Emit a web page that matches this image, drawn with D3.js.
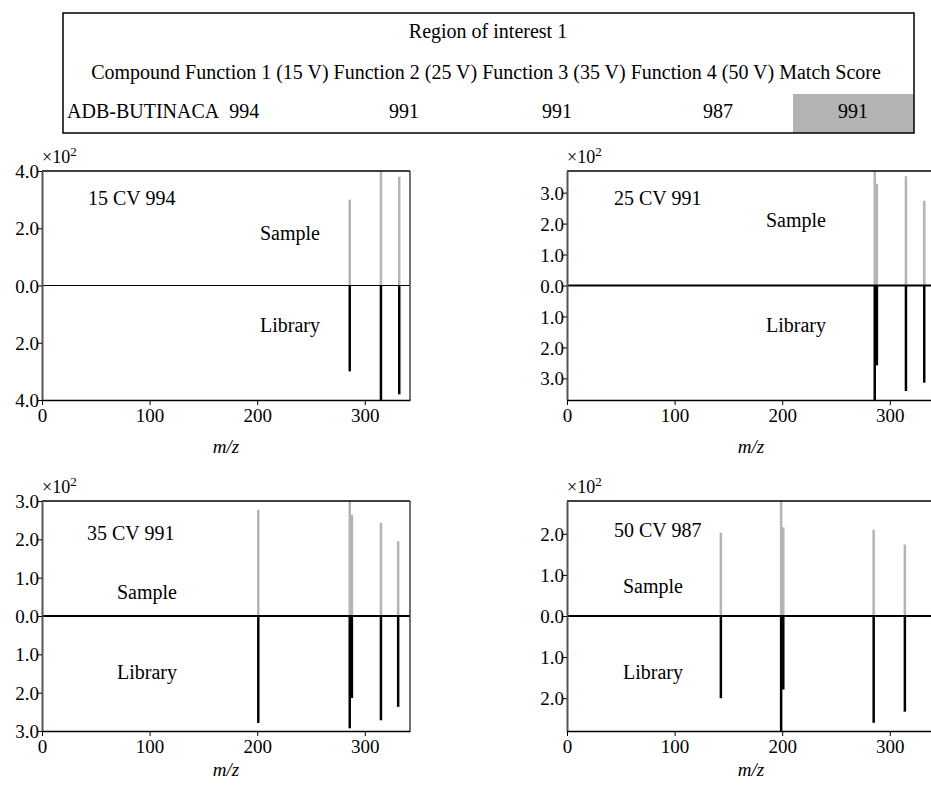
<!DOCTYPE html>
<meta charset="utf-8">
<style>
body { margin: 0; background: #fff; }
svg text { font-family: "Liberation Serif", "DejaVu Serif", serif; fill: #000; }
.axis path, .axis line { stroke: #000; }
</style>
<body>
<div id="chart"></div>
<script src="https://cdn.jsdelivr.net/npm/d3@7"></script>
<script>
// header table
var headTitle = "Region of interest 1";
var headCols = "Compound Function 1 (15 V) Function 2 (25 V) Function 3 (35 V) Function 4 (50 V) Match Score";
var rowName = "ADB-BUTINACA";
var rowScores = ["994", "991", "991", "987", "991"];

// spectra (intensity x10^2), sample above / library below
var panelLabels = ["15 CV 994", "25 CV 991", "35 CV 991", "50 CV 987"];
var yMaxes = [4.0, 3.7, 3.0, 2.8];
var yTicks = [[-4, -2, 0, 2, 4], [-3, -2, -1, 0, 1, 2, 3], [-3, -2, -1, 0, 1, 2, 3], [-2, -1, 0, 1, 2]];

var mz15 = [286, 315, 332];
var sample15 = [3.0, 4.0, 3.8];
var library15 = [3.0, 4.0, 3.8];

var mz25 = [286, 288, 315, 332];
var sample25 = [3.7, 3.29, 3.53, 2.74];
var library25 = [3.7, 2.58, 3.41, 3.14];

var mz35 = [201, 286, 288, 315, 331];
var sample35 = [2.77, 3.0, 2.64, 2.43, 1.95];
var library35 = [2.79, 2.93, 2.14, 2.72, 2.37];

var mz50 = [143, 199, 201, 285, 314];
var sample50 = [2.03, 2.8, 2.16, 2.1, 1.74];
var library50 = [2.0, 2.8, 1.79, 2.6, 2.33];

var xTicks = [0, 100, 200, 300];

var svg = d3.select("#chart").append("svg")
    .attr("width", 931)
    .attr("height", 786);

// ---- table ----
svg.append("rect")
    .attr("x", 793).attr("y", 94).attr("width", 121).attr("height", 39)
    .style("fill", "#b3b3b3");
svg.append("rect")
    .attr("x", 63).attr("y", 13).attr("width", 851).attr("height", 120)
    .style("fill", "none").style("stroke", "#000").style("stroke-width", 1.5);
svg.append("text").attr("x", 488).attr("y", 38)
    .attr("text-anchor", "middle").style("font-size", "20px").text(headTitle);
svg.append("text").attr("x", 486).attr("y", 79)
    .attr("text-anchor", "middle").style("font-size", "20px").text(headCols);
svg.append("text").attr("x", 67).attr("y", 118)
    .style("font-size", "20px").text(rowName + "\u00a0 " + rowScores[0]);
var scoreX = [404, 557, 718, 853];
rowScores.slice(1).forEach(function(s, i) {
  svg.append("text").attr("x", scoreX[i]).attr("y", 118)
      .attr("text-anchor", "middle").style("font-size", "20px").text(s);
});

// ---- panels ----
var boxes = [
  {left: 42, top: 171, bottom: 400, zero: 1, mzY: 453},
  {left: 567, top: 171, bottom: 400, zero: 2, mzY: 453},
  {left: 42, top: 501, bottom: 731, zero: 2, mzY: 776},
  {left: 567, top: 501, bottom: 731, zero: 2, mzY: 776}
];
var spectra = [
  [mz15, sample15, library15],
  [mz25, sample25, library25],
  [mz35, sample35, library35],
  [mz50, sample50, library50]
];
var textPos = [
  {lab: [88, 205], s: [290, 240], l: [290, 332]},
  {lab: [614, 205], s: [796, 227], l: [796, 332]},
  {lab: [87, 540], s: [147, 599], l: [147, 679]},
  {lab: [614, 537], s: [653, 593], l: [653, 679]}
];

boxes.forEach(function(b, k) {
  var w = 368, h = b.bottom - b.top;
  var x = d3.scaleLinear().domain([0, 342]).range([0, w]);
  var y = d3.scaleLinear().domain([-yMaxes[k], yMaxes[k]]).range([h, 0]);
  var g = svg.append("g").attr("transform", "translate(" + b.left + "," + b.top + ")");

  g.append("clipPath").attr("id", "clip" + k)
    .append("rect").attr("width", w).attr("height", h);

  var d = spectra[k];
  var peaks = d[0].map(function(m, i) { return {mz: m, s: d[1][i], l: d[2][i]}; });
  var marks = g.append("g").attr("clip-path", "url(#clip" + k + ")");
  marks.selectAll(".samp").data(peaks).enter().append("line")
      .attr("x1", p => x(p.mz)).attr("x2", p => x(p.mz))
      .attr("y1", y(0)).attr("y2", p => y(p.s))
      .style("stroke", "#b4b4b4").style("stroke-width", 2.5);
  marks.selectAll(".lib").data(peaks).enter().append("line")
      .attr("x1", p => x(p.mz)).attr("x2", p => x(p.mz))
      .attr("y1", y(0)).attr("y2", p => y(-p.l))
      .style("stroke", "#000").style("stroke-width", 2.5);

  // zero line
  g.append("line").attr("x1", 0).attr("x2", w)
      .attr("y1", y(0)).attr("y2", y(0))
      .style("stroke", "#000").style("stroke-width", b.zero);
  // frame top / right
  g.append("line").attr("x1", 0).attr("x2", w).attr("y1", 0).attr("y2", 0)
      .style("stroke", "#000").style("stroke-width", 1.5);
  g.append("line").attr("x1", w).attr("x2", w).attr("y1", 0).attr("y2", h)
      .style("stroke", "#444").style("stroke-width", 1.5);

  var yAxis = g.append("g").attr("class", "axis")
      .call(d3.axisLeft(y).tickValues(yTicks[k]).tickSize(4).tickSizeOuter(0)
        .tickFormat(v => Math.abs(v).toFixed(1)));
  yAxis.select(".domain").style("stroke", "#555").style("stroke-width", 2);
  yAxis.selectAll("text").style("font-size", "19px").attr("x", -3).attr("dy", "0.35em");

  var xAxis = g.append("g").attr("class", "axis")
      .attr("transform", "translate(0," + h + ")")
      .call(d3.axisBottom(x).tickValues(xTicks).tickSize(5).tickSizeOuter(0)
        .tickFormat(d3.format("d")));
  xAxis.select(".domain").style("stroke-width", 1.5);
  xAxis.selectAll("text").style("font-size", "19px").attr("y", 9);

  // x10^2 label
  var ex = svg.append("text").attr("x", b.left).attr("y", b.top - 8).style("font-size", "18px");
  ex.append("tspan").text("\u00d710");
  ex.append("tspan").attr("dy", -7).style("font-size", "13px").text("2");

  // m/z
  svg.append("text").attr("x", b.left + 184).attr("y", b.mzY)
      .attr("text-anchor", "middle").style("font-size", "19px").style("font-style", "italic")
      .text("m/z");

  var t = textPos[k];
  svg.append("text").attr("x", t.lab[0]).attr("y", t.lab[1]).style("font-size", "20px").text(panelLabels[k]);
  svg.append("text").attr("x", t.s[0]).attr("y", t.s[1]).attr("text-anchor", "middle")
      .style("font-size", "20px").text("Sample");
  svg.append("text").attr("x", t.l[0]).attr("y", t.l[1]).attr("text-anchor", "middle")
      .style("font-size", "20px").text("Library");
});
</script>
</body>
